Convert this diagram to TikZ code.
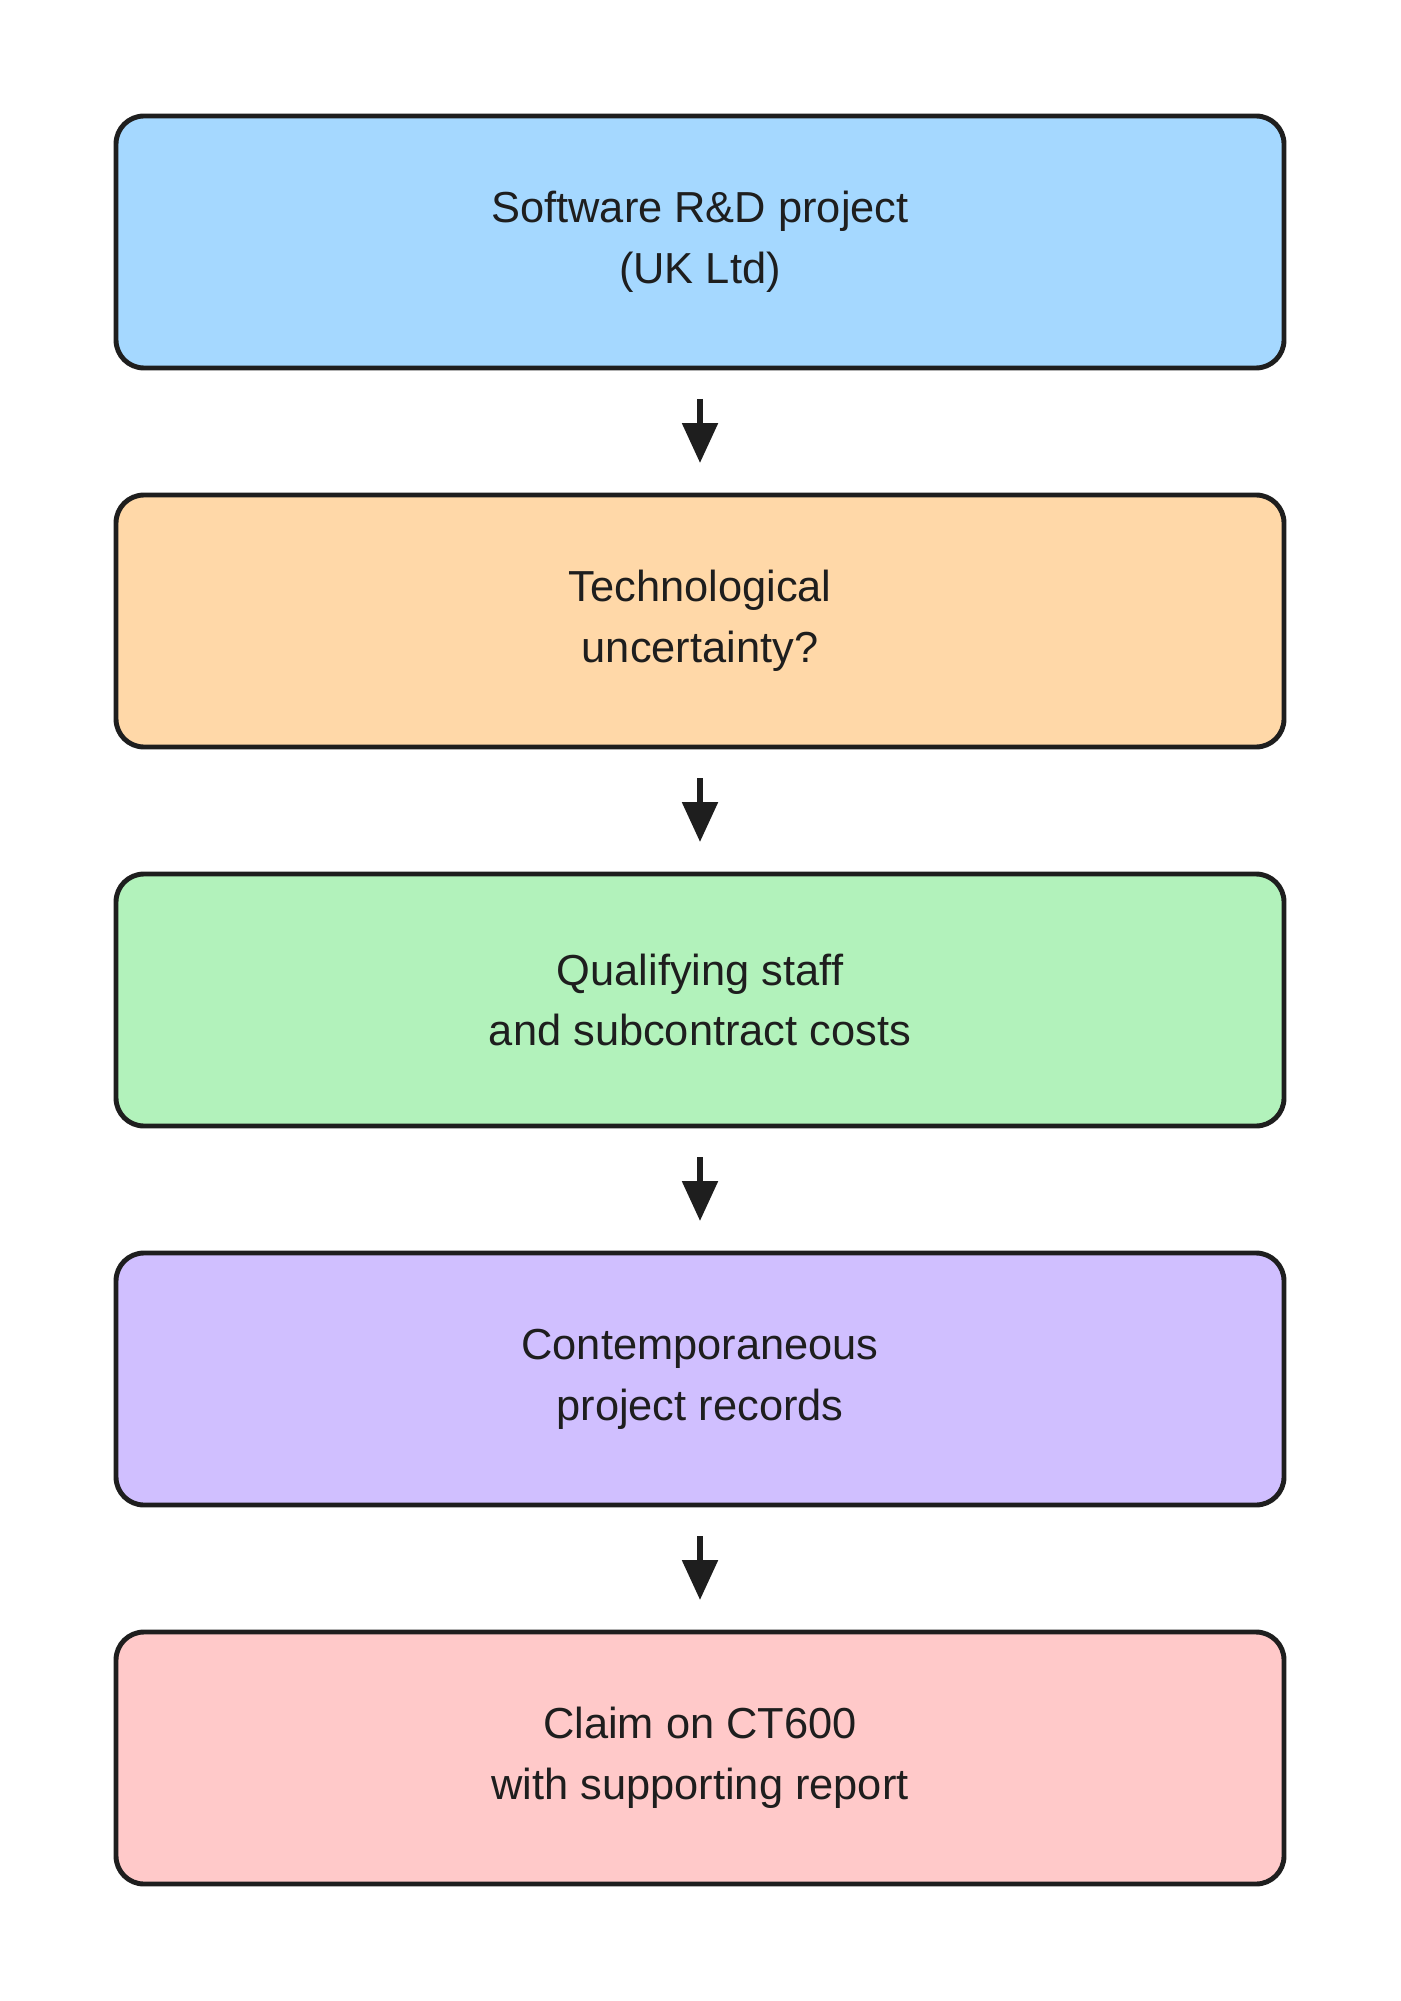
\documentclass[tikz,border=0pt]{standalone}
\usepackage{fontspec}
\setmainfont{Liberation Sans}
\usepackage{tikz}
\usetikzlibrary{arrows.meta,positioning}
\usepackage{xcolor}
\definecolor{ink}{HTML}{1E1E1E}
\definecolor{boxblue}{HTML}{A5D8FF}
\definecolor{boxorange}{HTML}{FFD8A8}
\definecolor{boxgreen}{HTML}{B2F2BB}
\definecolor{boxviolet}{HTML}{D0BFFF}
\definecolor{boxred}{HTML}{FFC9C9}

\begin{document}
\begin{tikzpicture}[
    stage/.style={draw=ink, line width=2.8pt, rounded corners=0.56cm,
        minimum width=23.36cm, minimum height=5.04cm, outer sep=0pt,
        align=center, text=ink, font=\fontsize{24.7}{34.6}\selectfont},
    flow/.style={draw=ink, line width=3.4pt,
        -{Triangle[width=19.8pt,length=22.7pt]},
        shorten <=0.62cm, shorten >=0.64cm},
    node distance=2.54cm]
    \useasboundingbox (0,0) rectangle (28,-40.02);
    \node[stage, fill=boxblue] (proj) at (14,-4.84) {Software R\&D project\\(UK Ltd)};
    \node[stage, fill=boxorange, below=of proj] (unc) {Technological\\uncertainty?};
    \node[stage, fill=boxgreen, below=of unc] (costs) {Qualifying staff\\and subcontract costs};
    \node[stage, fill=boxviolet, below=of costs] (recs) {Contemporaneous\\project records};
    \node[stage, fill=boxred, below=of recs] (claim) {Claim on CT600\\with supporting report};
    \draw[flow] (proj) -- (unc);
    \draw[flow] (unc) -- (costs);
    \draw[flow] (costs) -- (recs);
    \draw[flow] (recs) -- (claim);
\end{tikzpicture}
\end{document}
